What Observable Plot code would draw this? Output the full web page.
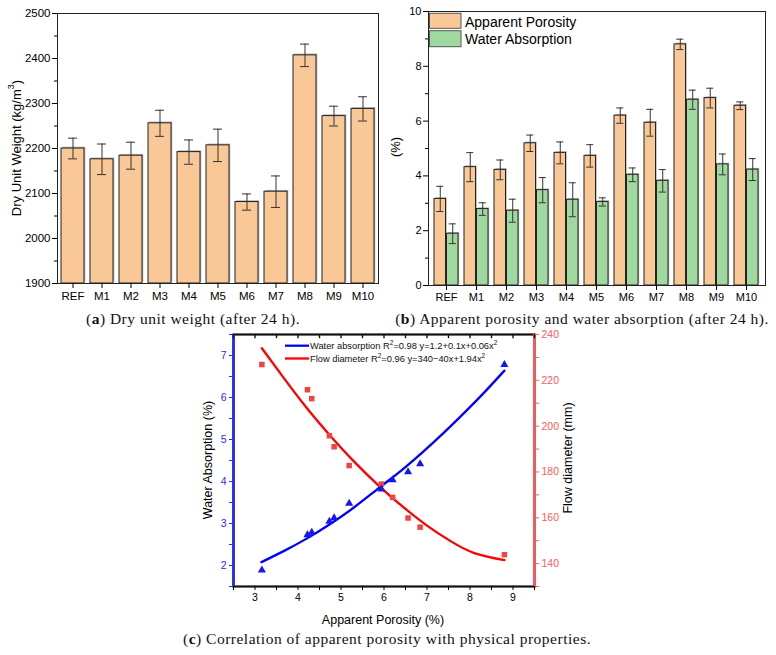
<!DOCTYPE html>
<html><head><meta charset="utf-8">
<script src="https://cdn.jsdelivr.net/npm/d3@7"></script>
<script src="https://cdn.jsdelivr.net/npm/@observablehq/plot@0.6"></script>
<style>
html,body{margin:0;padding:0;background:#fff}
body{width:776px;height:655px;position:relative;overflow:hidden;font-family:"Liberation Sans",Arial,sans-serif}
.p{position:absolute}
.cap{position:absolute;font-family:"Liberation Serif","Times New Roman",serif;font-size:15.5px;letter-spacing:0.5px;white-space:nowrap;transform:translateX(-50%);line-height:16px;color:#111}
</style></head>
<body>
<div id="a" class="p" style="left:0;top:0"></div>
<div id="b" class="p" style="left:385px;top:0"></div>
<div id="c" class="p" style="left:170px;top:320px"></div>
<div class="cap" style="left:193px;top:311px">(<b>a</b>) Dry unit weight (after 24 h).</div>
<div class="cap" style="left:582px;top:311px">(<b>b</b>) Apparent porosity and water absorption (after 24 h).</div>
<div class="cap" style="left:387px;top:631px">(<b>c</b>) Correlation of apparent porosity with physical properties.</div>
<script>
// ---------- data ----------
const mixes = ["REF","M1","M2","M3","M4","M5","M6","M7","M8","M9","M10"];
const dryUnitWeight    = [2200,2176,2184,2256,2192,2207,2081,2104,2407,2272,2288];
const dryUnitWeightErr = [23,34,30,29,27,36,18,35,25,22,27];
const apparentPorosity    = [3.16,4.32,4.22,5.19,4.84,4.73,6.20,5.94,8.80,6.84,6.56];
const apparentPorosityErr = [0.46,0.53,0.36,0.30,0.40,0.41,0.28,0.49,0.19,0.36,0.14];
const waterAbsorption     = [1.89,2.79,2.73,3.48,3.13,3.05,4.04,3.82,6.78,4.42,4.23];
const waterAbsorptionErr  = [0.36,0.23,0.42,0.46,0.62,0.15,0.25,0.41,0.35,0.38,0.40];
const flowDiameter        = [226.9,212.0,215.9,182.8,191.0,195.8,168.9,174.7,143.9,155.9,159.9];
// fitted curves
const waFitX = [3.15,3.7,4.2,4.75,5.3,5.9,6.4,6.9,7.4,7.9,8.35,8.8];
const waFitY = [2.08,2.36,2.64,2.99,3.38,3.86,4.26,4.70,5.17,5.67,6.14,6.64];
const fdFitX = [3.16,3.65,4.2,4.75,5.3,5.9,6.45,7.0,7.55,8.1,8.8];
const fdFitY = [234.0,221.5,208.0,195.8,184.6,173.6,164.6,156.6,149.8,144.6,141.5];
// ticks
const weightTicks = [1900,2000,2100,2200,2300,2400,2500];
const weightMinor = [1950,2050,2150,2250,2350,2450];
const pctTicks = [0,2,4,6,8,10];
const pctMinor = [1,3,5,7,9];
const porTicks = [3,4,5,6,7,8,9];
const porMinor = [2.5,3.5,4.5,5.5,6.5,7.5,8.5,9.5];
const waTicks = [2,3,4,5,6,7];
const waMinor = [1.5,2.5,3.5,4.5,5.5,6.5,7.5];
const fdTicks = [140,160,180,200,220,240];
const fdMinor = [130,150,170,190,210,230];
const seriesNames = ["Apparent Porosity","Water Absorption"];

const FONT = "Liberation Sans, Arial, sans-serif";
const PEACH = "#F9C896", GREEN = "#9FD9A0";
const fmtInt = d3.format("d");

// ---------- (a) ----------
const dA = mixes.map((m,i)=>({mix:m, v:dryUnitWeight[i], e:dryUnitWeightErr[i]}));
const pa = Plot.plot({
  width: 385, height: 310,
  marginLeft: 57, marginRight: 7, marginTop: 13, marginBottom: 27,
  style: {fontFamily: FONT, fontSize: "11.5px", color: "#000", background: "transparent"},
  x: {type: "band", domain: mixes, paddingInner: 0.2, paddingOuter: 0.1, axis: null},
  y: {domain: [1900, 2500], axis: null},
  marks: [
    Plot.barY(dA, {x: "mix", y1: 1900, y2: "v", fill: "#b5b5b5", dx: 1.3, dy: -1.3}),
    Plot.barY(dA, {x: "mix", y1: 1900, y2: "v", fill: PEACH, stroke: "#222", strokeWidth: 1}),
    Plot.ruleX(dA, {x: "mix", y1: d => d.v - d.e, y2: d => d.v + d.e, stroke: "#333"}),
    Plot.tickY(dA, {x: "mix", y: d => d.v + d.e, insetLeft: 7, insetRight: 7, stroke: "#333"}),
    Plot.tickY(dA, {x: "mix", y: d => d.v - d.e, insetLeft: 7, insetRight: 7, stroke: "#333"}),
    Plot.frame({stroke: "#222"}),
    Plot.axisY(weightTicks, {tickSize: 5, tickPadding: 2, label: null, fontSize: 11.5, tickFormat: fmtInt}),
    Plot.axisY(weightMinor, {tickSize: 3, tickFormat: () => "", label: null}),
    Plot.axisX(mixes, {tickSize: 5, tickPadding: 3, label: null, fontSize: 11.5})
  ]
});
document.getElementById("a").appendChild(pa);
d3.select(pa).append("text")
  .attr("transform", "translate(16,148) rotate(-90)")
  .attr("text-anchor", "middle").attr("dominant-baseline", "central")
  .style("font", "13px " + FONT)
  .call(t => { t.append("tspan").text("Dry Unit Weight (kg/m");
               t.append("tspan").attr("dy", -5).style("font-size", "9px").text("3");
               t.append("tspan").attr("dy", 5).text(")"); });

// ---------- (b) ----------
const dB = mixes.map((m,i)=>({mix:m, ap:apparentPorosity[i], ape:apparentPorosityErr[i], wa:waterAbsorption[i], wae:waterAbsorptionErr[i]}));
const bStep = 337 / (11 - 0.19 + 0.12), bw = bStep * 0.81, hb = bw / 2;
const capIn = (hb - 8) / 2;
const pb = Plot.plot({
  width: 391, height: 310,
  marginLeft: 43, marginRight: 11, marginTop: 11, marginBottom: 25,
  style: {fontFamily: FONT, fontSize: "11px", color: "#000", background: "transparent"},
  x: {type: "band", domain: mixes, paddingInner: 0.19, paddingOuter: 0.06, axis: null},
  y: {domain: [0, 10], axis: null},
  marks: [
    Plot.barY(dB, {x: "mix", y1: 0, y2: "ap", insetRight: hb, fill: "#b5b5b5", dx: 1.2, dy: -1.2}),
    Plot.barY(dB, {x: "mix", y1: 0, y2: "wa", insetLeft: hb, fill: "#b5b5b5", dx: 1.2, dy: -1.2}),
    Plot.barY(dB, {x: "mix", y1: 0, y2: "ap", insetRight: hb, fill: PEACH, stroke: "#222"}),
    Plot.barY(dB, {x: "mix", y1: 0, y2: "wa", insetLeft: hb, fill: GREEN, stroke: "#222"}),
    Plot.ruleX(dB, {x: "mix", y1: d => d.ap - d.ape, y2: d => d.ap + d.ape, dx: -hb/2, stroke: "#333"}),
    Plot.ruleX(dB, {x: "mix", y1: d => d.wa - d.wae, y2: d => d.wa + d.wae, dx: hb/2, stroke: "#333"}),
    Plot.tickY(dB, {x: "mix", y: d => d.ap + d.ape, insetLeft: capIn, insetRight: hb + capIn, stroke: "#333"}),
    Plot.tickY(dB, {x: "mix", y: d => d.ap - d.ape, insetLeft: capIn, insetRight: hb + capIn, stroke: "#333"}),
    Plot.tickY(dB, {x: "mix", y: d => d.wa + d.wae, insetLeft: hb + capIn, insetRight: capIn, stroke: "#333"}),
    Plot.tickY(dB, {x: "mix", y: d => d.wa - d.wae, insetLeft: hb + capIn, insetRight: capIn, stroke: "#333"}),
    Plot.frame({stroke: "#222"}),
    Plot.axisY(pctTicks, {tickSize: 5, tickPadding: 2, label: null, fontSize: 11}),
    Plot.axisY(pctMinor, {tickSize: 3, tickFormat: () => "", label: null}),
    Plot.axisX(mixes, {tickSize: 5, tickPadding: 3, label: null, fontSize: 11})
  ]
});
document.getElementById("b").appendChild(pb);
const gb = d3.select(pb);
gb.append("text").attr("transform", "translate(10,147) rotate(-90)")
  .attr("text-anchor", "middle").attr("dominant-baseline", "central")
  .style("font", "13px " + FONT).text("(%)");
[[PEACH, 13.3, 15, seriesNames[0], 21.5], [GREEN, 30.7, 16, seriesNames[1], 39.2]].forEach(([c, y, h, label, ty]) => {
  gb.append("rect").attr("x", 44.5).attr("y", y).attr("width", 31.5).attr("height", h)
    .attr("fill", c).attr("stroke", "#555").attr("stroke-width", 1);
  gb.append("text").attr("x", 80).attr("y", ty).attr("text-anchor", "start").attr("dominant-baseline", "central")
    .style("font", "14px " + FONT).text(label);
});

// ---------- (c) ----------
const FD_LO = 130, FD_HI = 240, WA_LO = 1.5, WA_HI = 7.5;
const fdToWa = v => WA_LO + (v - FD_LO) / (FD_HI - FD_LO) * (WA_HI - WA_LO);
const waToFd = v => FD_LO + (v - WA_LO) / (WA_HI - WA_LO) * (FD_HI - FD_LO);
const BLUE_AX = "#2a2aff", RED_AX = "#ff5a5a";
const dC = mixes.map((m,i)=>({ap: apparentPorosity[i], wa: waterAbsorption[i], fd: flowDiameter[i]}));
const waFit = waFitX.map((x,i)=>({x, y: waFitY[i]}));
const fdFit = fdFitX.map((x,i)=>({x, y: fdFitY[i]}));
const pc = Plot.plot({
  width: 420, height: 315,
  marginLeft: 63, marginRight: 56, marginTop: 14, marginBottom: 49,
  style: {fontFamily: FONT, fontSize: "10.5px", color: "#000", background: "transparent"},
  x: {domain: [2.5, 9.5], axis: null},
  y: {domain: [WA_LO, WA_HI], axis: null},
  marks: [
    Plot.frame({stroke: "#111", strokeWidth: 2.2}),
    Plot.ruleX([2.5], {stroke: BLUE_AX, strokeWidth: 2.6}),
    Plot.ruleX([9.5], {stroke: RED_AX, strokeWidth: 2.6}),
    Plot.ruleX(porTicks.concat(porMinor), {y1: WA_HI, y2: WA_HI - 0.1, stroke: "#111", strokeWidth: 1.4}),
    Plot.line(fdFit, {x: "x", y: d => fdToWa(d.y), stroke: "#ff0000", strokeWidth: 2.3, curve: "natural"}),
    Plot.line(waFit, {x: "x", y: "y", stroke: "#0000ff", strokeWidth: 2.3, curve: "natural"}),
    Plot.dot(dC, {x: "ap", y: d => fdToWa(d.fd), symbol: "square", fill: "#ee4444", r: 3.1}),
    Plot.dot(dC, {x: "ap", y: "wa", symbol: "triangle", fill: "#1515ee", r: 3}),
    Plot.axisX(porTicks, {tickSize: 4, tickPadding: 3, label: null, fontSize: 10.5}),
    Plot.axisX(porMinor, {tickSize: 4, tickFormat: () => "", label: null}),
    Plot.axisY(waTicks, {anchor: "left", tickSize: 4, tickPadding: 3, label: null, color: BLUE_AX, fontSize: 10.5}),
    Plot.axisY(waMinor, {anchor: "left", tickSize: 4, tickFormat: () => "", label: null, color: BLUE_AX}),
    Plot.axisY(fdTicks.map(fdToWa), {anchor: "right", tickSize: 4, tickPadding: 3, label: null, color: RED_AX, fontSize: 10.5, tickFormat: d => Math.round(waToFd(d))}),
    Plot.axisY(fdMinor.map(fdToWa), {anchor: "right", tickSize: 4, tickFormat: () => "", label: null, color: RED_AX})
  ]
});
document.getElementById("c").appendChild(pc);
const gc = d3.select(pc);
gc.append("text").attr("transform", "translate(38,140) rotate(-90)")
  .attr("text-anchor", "middle").attr("dominant-baseline", "central")
  .style("font", "12.5px " + FONT).text("Water Absorption (%)");
gc.append("text").attr("transform", "translate(398,138) rotate(-90)")
  .attr("text-anchor", "middle").attr("dominant-baseline", "central")
  .style("font", "12.5px " + FONT).text("Flow diameter (mm)");
gc.append("text").attr("x", 213).attr("y", 299.5)
  .attr("text-anchor", "middle").attr("dominant-baseline", "central")
  .style("font", "12.5px " + FONT).text("Apparent Porosity (%)");
const legC = [
  ["#0000ff", 25.7, "Water absorption R", "=0.98 y=1.2+0.1x+0.06x"],
  ["#ff0000", 38.5, "Flow diameter R", "=0.96 y=340\u221240x+1.94x"]
];
legC.forEach(([c, y, a, b]) => {
  gc.append("line").attr("x1", 115).attr("x2", 139).attr("y1", y).attr("y2", y)
    .attr("stroke", c).attr("stroke-width", 2.3);
  const t = gc.append("text").attr("x", 140).attr("y", y + 3.2).attr("text-anchor", "start")
    .style("font", "9.3px " + FONT).attr("fill", "#111");
  t.append("tspan").text(a);
  t.append("tspan").attr("dy", -3.5).style("font-size", "6.5px").text("2");
  t.append("tspan").attr("dy", 3.5).text(b);
  t.append("tspan").attr("dy", -3.5).style("font-size", "6.5px").text("2");
});
</script>
</body></html>
